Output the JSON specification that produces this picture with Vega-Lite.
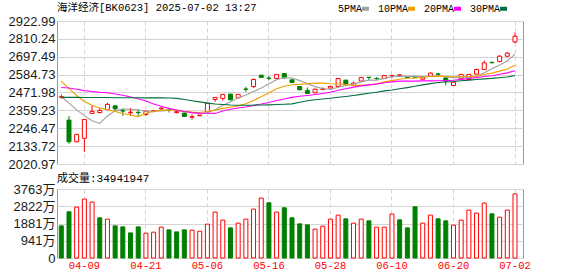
{
  "$schema": "https://vega.github.io/schema/vega-lite/v6.json",
  "padding": {"left": 7, "top": 2, "right": 4, "bottom": 2},
  "background": "white",
  "config": {
    "view": {"stroke": "#999999", "strokeWidth": 1},
    "axis": {"domain": false, "ticks": false, "gridColor": "#d4d4d4", "gridWidth": 1, "labelFont": "'Liberation Sans', 'Noto Sans CJK SC'", "labelFontSize": 13, "labelColor": "#1a1a1a", "title": null},
    "concat": {"spacing": 0}
  },
  "data": {"values": [
    {"d":"04-03","o":2443,"h":2460,"l":2432,"c":2446,"v":1753,"vu":0,"m5":2445,"m10":2543,"m20":2504,"m30":2441},
    {"d":"04-07","o":2298,"h":2323,"l":2149,"c":2161,"v":2520,"vu":0,"m5":2405,"m10":2497,"m20":2500,"m30":2441},
    {"d":"04-08","o":2161,"h":2210,"l":2157,"c":2208,"v":2777,"vu":1,"m5":2362,"m10":2453,"m20":2493,"m30":2441},
    {"d":"04-09","o":2183,"h":2303,"l":2098,"c":2302,"v":3215,"vu":1,"m5":2326,"m10":2415,"m20":2484,"m30":2440},
    {"d":"04-10","o":2340,"h":2388,"l":2338,"c":2353,"v":3051,"vu":1,"m5":2294,"m10":2392,"m20":2478,"m30":2440},
    {"d":"04-11","o":2346,"h":2375,"l":2340,"c":2359,"v":2191,"vu":0,"m5":2277,"m10":2374,"m20":2473,"m30":2440},
    {"d":"04-14","o":2365,"h":2407,"l":2359,"c":2397,"v":2120,"vu":1,"m5":2324,"m10":2364,"m20":2470,"m30":2440},
    {"d":"04-15","o":2388,"h":2394,"l":2350,"c":2369,"v":1753,"vu":0,"m5":2356,"m10":2352,"m20":2463,"m30":2439},
    {"d":"04-16","o":2357,"h":2373,"l":2325,"c":2355,"v":1698,"vu":0,"m5":2367,"m10":2340,"m20":2455,"m30":2439},
    {"d":"04-17","o":2344,"h":2375,"l":2325,"c":2348,"v":1369,"vu":0,"m5":2366,"m10":2330,"m20":2444,"m30":2439},
    {"d":"04-18","o":2347,"h":2363,"l":2325,"c":2345,"v":1698,"vu":0,"m5":2363,"m10":2320,"m20":2432,"m30":2439},
    {"d":"04-21","o":2333,"h":2357,"l":2325,"c":2355,"v":1353,"vu":1,"m5":2354,"m10":2339,"m20":2418,"m30":2438},
    {"d":"04-22","o":2353,"h":2363,"l":2346,"c":2357,"v":1408,"vu":1,"m5":2352,"m10":2354,"m20":2400,"m30":2438},
    {"d":"04-23","o":2369,"h":2382,"l":2359,"c":2373,"v":1682,"vu":1,"m5":2356,"m10":2361,"m20":2385,"m30":2438},
    {"d":"04-24","o":2363,"h":2375,"l":2346,"c":2359,"v":1534,"vu":0,"m5":2358,"m10":2362,"m20":2372,"m30":2437},
    {"d":"04-25","o":2345,"h":2356,"l":2340,"c":2351,"v":1424,"vu":0,"m5":2359,"m10":2361,"m20":2362,"m30":2435},
    {"d":"04-28","o":2342,"h":2344,"l":2319,"c":2321,"v":1534,"vu":0,"m5":2352,"m10":2353,"m20":2352,"m30":2428},
    {"d":"04-29","o":2316,"h":2334,"l":2302,"c":2320,"v":1517,"vu":1,"m5":2345,"m10":2348,"m20":2345,"m30":2420},
    {"d":"04-30","o":2325,"h":2331,"l":2324,"c":2329,"v":1462,"vu":1,"m5":2336,"m10":2346,"m20":2342,"m30":2413},
    {"d":"05-06","o":2350,"h":2407,"l":2348,"c":2405,"v":1846,"vu":1,"m5":2345,"m10":2352,"m20":2341,"m30":2405},
    {"d":"05-07","o":2428,"h":2443,"l":2413,"c":2441,"v":2503,"vu":1,"m5":2363,"m10":2361,"m20":2340,"m30":2399},
    {"d":"05-08","o":2435,"h":2462,"l":2422,"c":2460,"v":2065,"vu":1,"m5":2391,"m10":2372,"m20":2355,"m30":2396},
    {"d":"05-09","o":2462,"h":2463,"l":2422,"c":2426,"v":1643,"vu":0,"m5":2412,"m10":2379,"m20":2366,"m30":2393},
    {"d":"05-12","o":2438,"h":2462,"l":2435,"c":2460,"v":1901,"vu":1,"m5":2438,"m10":2387,"m20":2374,"m30":2392},
    {"d":"05-13","o":2494,"h":2508,"l":2476,"c":2492,"v":2120,"vu":1,"m5":2456,"m10":2401,"m20":2381,"m30":2392},
    {"d":"05-14","o":2510,"h":2560,"l":2499,"c":2554,"v":2668,"vu":1,"m5":2478,"m10":2421,"m20":2391,"m30":2392},
    {"d":"05-15","o":2581,"h":2583,"l":2565,"c":2567,"v":3270,"vu":1,"m5":2500,"m10":2445,"m20":2399,"m30":2393},
    {"d":"05-16","o":2563,"h":2575,"l":2550,"c":2561,"v":3013,"vu":0,"m5":2527,"m10":2470,"m20":2409,"m30":2394},
    {"d":"05-19","o":2560,"h":2588,"l":2556,"c":2586,"v":2503,"vu":1,"m5":2552,"m10":2495,"m20":2421,"m30":2396},
    {"d":"05-20","o":2592,"h":2594,"l":2560,"c":2564,"v":2739,"vu":0,"m5":2566,"m10":2511,"m20":2431,"m30":2398},
    {"d":"05-21","o":2552,"h":2556,"l":2533,"c":2535,"v":2191,"vu":0,"m5":2563,"m10":2521,"m20":2441,"m30":2400},
    {"d":"05-22","o":2510,"h":2512,"l":2487,"c":2489,"v":1862,"vu":0,"m5":2547,"m10":2523,"m20":2448,"m30":2411},
    {"d":"05-23","o":2485,"h":2504,"l":2464,"c":2466,"v":1808,"vu":0,"m5":2528,"m10":2527,"m20":2453,"m30":2420},
    {"d":"05-26","o":2470,"h":2495,"l":2468,"c":2493,"v":1572,"vu":1,"m5":2509,"m10":2531,"m20":2459,"m30":2426},
    {"d":"05-27","o":2492,"h":2504,"l":2485,"c":2495,"v":1736,"vu":1,"m5":2496,"m10":2531,"m20":2466,"m30":2431},
    {"d":"05-28","o":2500,"h":2514,"l":2498,"c":2510,"v":2120,"vu":1,"m5":2491,"m10":2527,"m20":2474,"m30":2436},
    {"d":"05-29","o":2510,"h":2562,"l":2508,"c":2560,"v":2339,"vu":1,"m5":2505,"m10":2526,"m20":2486,"m30":2442},
    {"d":"05-30","o":2550,"h":2552,"l":2523,"c":2525,"v":2136,"vu":0,"m5":2517,"m10":2522,"m20":2496,"m30":2447},
    {"d":"06-03","o":2516,"h":2540,"l":2514,"c":2531,"v":1901,"vu":1,"m5":2524,"m10":2517,"m20":2506,"m30":2453},
    {"d":"06-04","o":2544,"h":2569,"l":2542,"c":2567,"v":2120,"vu":1,"m5":2539,"m10":2517,"m20":2514,"m30":2460},
    {"d":"06-05","o":2568,"h":2569,"l":2548,"c":2567,"v":2027,"vu":0,"m5":2550,"m10":2520,"m20":2520,"m30":2467},
    {"d":"06-06","o":2561,"h":2568,"l":2552,"c":2560,"v":1682,"vu":1,"m5":2550,"m10":2527,"m20":2525,"m30":2474},
    {"d":"06-09","o":2560,"h":2581,"l":2558,"c":2579,"v":1682,"vu":1,"m5":2561,"m10":2539,"m20":2533,"m30":2482},
    {"d":"06-10","o":2577,"h":2581,"l":2563,"c":2580,"v":2394,"vu":1,"m5":2571,"m10":2547,"m20":2539,"m30":2488},
    {"d":"06-11","o":2581,"h":2585,"l":2570,"c":2583,"v":2081,"vu":0,"m5":2574,"m10":2556,"m20":2544,"m30":2496},
    {"d":"06-12","o":2568,"h":2570,"l":2564,"c":2567,"v":1643,"vu":0,"m5":2574,"m10":2562,"m20":2544,"m30":2503},
    {"d":"06-13","o":2568,"h":2572,"l":2563,"c":2567,"v":2794,"vu":0,"m5":2575,"m10":2563,"m20":2544,"m30":2511},
    {"d":"06-16","o":2556,"h":2570,"l":2552,"c":2568,"v":1901,"vu":1,"m5":2573,"m10":2567,"m20":2545,"m30":2520},
    {"d":"06-17","o":2575,"h":2598,"l":2572,"c":2594,"v":2339,"vu":1,"m5":2576,"m10":2573,"m20":2545,"m30":2528},
    {"d":"06-18","o":2589,"h":2596,"l":2578,"c":2587,"v":2136,"vu":0,"m5":2577,"m10":2575,"m20":2546,"m30":2535},
    {"d":"06-19","o":2564,"h":2566,"l":2518,"c":2544,"v":2027,"vu":0,"m5":2572,"m10":2573,"m20":2547,"m30":2538},
    {"d":"06-20","o":2516,"h":2540,"l":2514,"c":2537,"v":1791,"vu":1,"m5":2566,"m10":2571,"m20":2549,"m30":2541},
    {"d":"06-23","o":2558,"h":2588,"l":2556,"c":2586,"v":2065,"vu":1,"m5":2570,"m10":2571,"m20":2555,"m30":2546},
    {"d":"06-24","o":2554,"h":2588,"l":2552,"c":2586,"v":2613,"vu":1,"m5":2568,"m10":2572,"m20":2560,"m30":2550},
    {"d":"06-25","o":2588,"h":2622,"l":2586,"c":2617,"v":2448,"vu":1,"m5":2574,"m10":2575,"m20":2566,"m30":2554},
    {"d":"06-26","o":2617,"h":2674,"l":2615,"c":2659,"v":2996,"vu":1,"m5":2597,"m10":2585,"m20":2573,"m30":2558},
    {"d":"06-27","o":2662,"h":2667,"l":2655,"c":2660,"v":2410,"vu":0,"m5":2622,"m10":2594,"m20":2578,"m30":2561},
    {"d":"06-30","o":2667,"h":2708,"l":2662,"c":2701,"v":2229,"vu":1,"m5":2645,"m10":2607,"m20":2587,"m30":2565},
    {"d":"07-01","o":2701,"h":2727,"l":2695,"c":2720,"v":2613,"vu":1,"m5":2671,"m10":2620,"m20":2596,"m30":2570},
    {"d":"07-02","o":2791,"h":2850,"l":2783,"c":2827,"v":3494.19,"vu":1,"m5":2713,"m10":2644,"m20":2609,"m30":2579}
  ]},
  "vconcat": [
    {
      "width": 466,
      "height": 143,
      "title": {"text": "海洋经济[BK0623] 2025-07-02 13:27", "anchor": "start", "frame": "group", "font": "'Liberation Mono', 'Noto Sans CJK SC'", "fontSize": 10.5, "fontWeight": "normal", "color": "#000000", "offset": 2},
      "encoding": {
        "x": {"field": "d", "type": "ordinal", "sort": null,
          "scale": {"type": "band", "paddingInner": 0, "paddingOuter": 0.3, "align": 0.1},
          "axis": {"values": ["04-09","04-21","05-06","05-16","05-28","06-10","06-20","07-02"], "labels": false, "grid": true, "gridDash": [4,3], "bandPosition": 0.5, "title": null}}
      },
      "layer": [
        {
          "mark": {"type": "rule", "strokeWidth": 1},
          "encoding": {
            "y": {"field": "l", "type": "quantitative",
              "scale": {"domain": [2020.97, 2922.99], "nice": false, "zero": false},
              "axis": {"values": [2020.97, 2133.72, 2246.47, 2359.23, 2471.98, 2584.73, 2697.49, 2810.24, 2922.99], "tickCount": 20, "format": ".2f", "labelPadding": 2, "labelFlush": false, "labelOverlap": false, "grid": true}},
            "y2": {"field": "h"},
            "color": {"condition": {"test": "datum.c < datum.o", "value": "#008000"}, "value": "#ff0000"}
          }
        },
        {
          "mark": {"type": "bar", "size": 4, "strokeWidth": 1},
          "encoding": {
            "y": {"field": "o", "type": "quantitative", "axis": {"values": [2020.97, 2133.72, 2246.47, 2359.23, 2471.98, 2584.73, 2697.49, 2810.24, 2922.99], "tickCount": 20, "format": ".2f", "labelPadding": 2, "labelFlush": false, "labelOverlap": false, "grid": true}},
            "y2": {"field": "c"},
            "fill": {"condition": {"test": "datum.c < datum.o", "value": "#008000"}, "value": "#ffffff"},
            "stroke": {"condition": {"test": "datum.c < datum.o", "value": "#008000"}, "value": "#ff0000"}
          }
        },
        {
          "transform": [{"fold": ["m5", "m10", "m20", "m30"], "as": ["k", "val"]}],
          "mark": {"type": "line", "strokeWidth": 1.1},
          "encoding": {
            "y": {"field": "val", "type": "quantitative", "axis": {"values": [2020.97, 2133.72, 2246.47, 2359.23, 2471.98, 2584.73, 2697.49, 2810.24, 2922.99], "tickCount": 20, "format": ".2f", "labelPadding": 2, "labelFlush": false, "labelOverlap": false, "grid": true}},
            "color": {"field": "k", "type": "nominal",
              "scale": {"domain": ["m5", "m10", "m20", "m30"], "range": ["#a0a0a0", "#f0a000", "#ff00ff", "#00703c"]},
              "legend": {"orient": "none", "legendX": 303, "legendY": -18, "direction": "horizontal", "title": null,
                "labelExpr": "{'m5':'5PMA','m10':'10PMA','m20':'20PMA','m30':'30PMA'}[datum.label]",
                "symbolType": "stroke", "symbolSize": 49, "symbolStrokeWidth": 4,
                "labelFont": "'Liberation Mono'", "labelFontSize": 10, "labelColor": "#000000",
                "labelAlign": "right", "labelOffset": -9, "columnPadding": 0,
                "encode": {"symbols": {"update": {"strokeWidth": {"value": 4}}}}}}
          }
        }
      ]
    },
    {
      "width": 466,
      "height": 69,
      "title": {"text": "成交量:34941947", "anchor": "start", "frame": "group", "font": "'Liberation Mono', 'Noto Sans CJK SC'", "fontSize": 11, "fontWeight": "normal", "color": "#000000", "offset": -1},
      "mark": {"type": "bar", "size": 4, "strokeWidth": 1},
      "encoding": {
        "x": {"field": "d", "type": "ordinal", "sort": null,
          "scale": {"type": "band", "paddingInner": 0, "paddingOuter": 0.3, "align": 0.1},
          "axis": {"values": ["04-09","04-21","05-06","05-16","05-28","06-10","06-20","07-02"], "grid": true, "gridDash": [4,3], "bandPosition": 0.5, "labelAngle": 0, "labelColor": "#ff0000", "labelFont": "'Liberation Mono'", "labelFontSize": 10.5, "labelPadding": 2, "title": null}},
        "y": {"field": "v", "type": "quantitative",
          "scale": {"domain": [0, 3763], "nice": false, "zero": true},
          "axis": {"values": [0, 941, 1881, 2822, 3763], "tickCount": 20, "labelExpr": "datum.value == 0 ? '0' : datum.value + '万'", "labelPadding": 2, "labelFlush": false, "labelOverlap": false, "grid": true}},
        "fill": {"condition": {"test": "datum.vu == 1", "value": "#ffffff"}, "value": "#008000"},
        "stroke": {"condition": {"test": "datum.vu == 1", "value": "#ff0000"}, "value": "#008000"}
      }
    }
  ]
}
